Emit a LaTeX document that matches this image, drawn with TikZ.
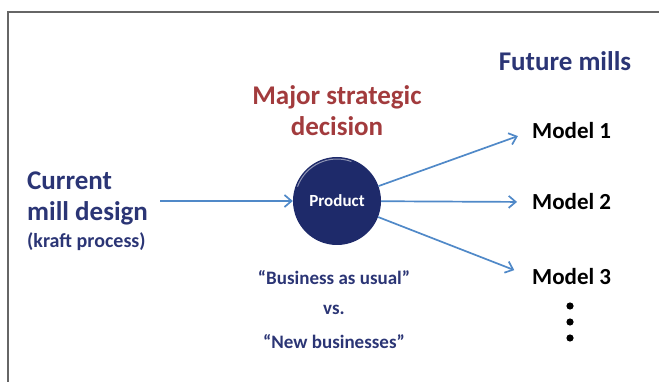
\documentclass[tikz,border=0pt]{standalone}
\usepackage{fontspec}
\setmainfont{Carlito}
\usetikzlibrary{positioning,arrows.meta}
\definecolor{navytext}{HTML}{2B3575}
\definecolor{ballblue}{HTML}{1E2A6A}
\definecolor{decred}{HTML}{A23B3D}
\definecolor{arrowblue}{HTML}{5089C8}

\begin{document}
\begin{tikzpicture}[x=1pt,y=-1pt,
	flow/.style={draw=arrowblue, line width=1.7pt, -{Straight Barb[length=7pt,width=12pt]}},
	heading/.style={font=\fontsize{27}{31}\selectfont\bfseries, inner sep=0, anchor=base},
	model/.style={font=\fontsize{23}{27}\selectfont\bfseries, inner sep=0, anchor=base west},
	quote/.style={font=\fontsize{19}{23}\selectfont\bfseries, text=navytext, inner sep=0, anchor=base}]
	\useasboundingbox (0,0) rectangle (659,382);
	% frame
	\draw[gray!80!black, line width=1.6pt] (659,12) -- (8,12) -- (8,382);

	% left side
	\node[heading, anchor=base west, text=navytext] (current) at (27,190) {Current};
	\node[heading, anchor=base west, text=navytext] (design) at (27,221) {mill design};
	\node[font=\fontsize{20}{24}\selectfont\bfseries, text=navytext, inner sep=0, anchor=base west] (kraft) at (27,248) {(kraft process)};

	% decision
	\node[circle, fill=ballblue, minimum size=88pt, inner sep=0] (product) at (337,201) {};
	\draw[white, opacity=0.5, line width=1pt] (product.center) ++(200:42) arc[start angle=200, end angle=290, radius=42];
	\node[font=\fontsize{17}{20}\selectfont\bfseries, text=white] at (product) {Product};
	\node[heading, text=decred] (major) at (337,105) {Major strategic};
	\node[heading, text=decred] (decision) at (337,136) {decision};

	% future mills
	\node[heading, text=navytext] (future) at (565,71) {Future mills};
	\node[model] (m1) at (532,139) {Model 1};
	\node[model] (m2) at (532,210) {Model 2};
	\node[model] (m3) at (532,285) {Model 3};
	\foreach \y in {306,322,338}
		\fill (570,\y) circle[radius=3.6];

	% business lines
	\node[quote] (usual) at (334,285) {“Business as usual”};
	\node[quote, below=29pt of usual.base, anchor=base] (vs) {vs.};
	\node[quote, below=34pt of vs.base, anchor=base] (newbiz) {“New businesses”};

	% arrows
	\draw[flow] ([xshift=12pt]design.east |- product) -- (product);
	\draw[flow, shorten >=15pt] (product) -- (m1.west);
	\draw[flow, shorten >=15pt] (product) -- (m2.west);
	\draw[flow, shorten >=19pt] (product) -- (m3.west);
\end{tikzpicture}
\end{document}
